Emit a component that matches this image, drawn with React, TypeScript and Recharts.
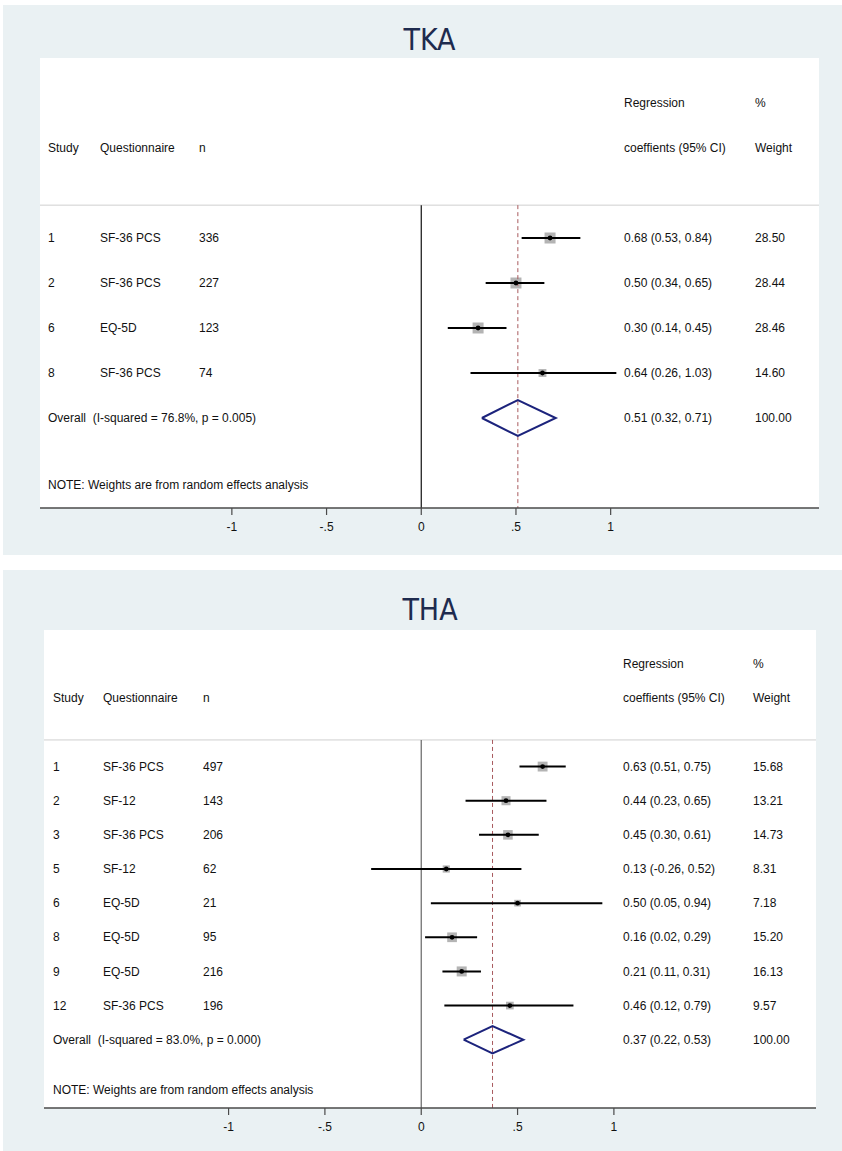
import React from "react";
import { ScatterChart, Scatter, XAxis, YAxis, ReferenceLine } from "recharts";

// TKA studies
const TKA_STUDY = ["1", "2", "6", "8"];
const TKA_QUEST = ["SF-36 PCS", "SF-36 PCS", "EQ-5D", "SF-36 PCS"];
const TKA_N = [336, 227, 123, 74];
const TKA_EST = [0.68, 0.5, 0.3, 0.64];
const TKA_LO = [0.53, 0.34, 0.14, 0.26];
const TKA_HI = [0.84, 0.65, 0.45, 1.03];
const TKA_WEIGHT = [28.5, 28.44, 28.46, 14.6];
const TKA_OVERALL = [0.51, 0.32, 0.71];
const TKA_I2 = "76.8%";
const TKA_P = "0.005";

// THA studies
const THA_STUDY = ["1", "2", "3", "5", "6", "8", "9", "12"];
const THA_QUEST = ["SF-36 PCS", "SF-12", "SF-36 PCS", "SF-12", "EQ-5D", "EQ-5D", "EQ-5D", "SF-36 PCS"];
const THA_N = [497, 143, 206, 62, 21, 95, 216, 196];
const THA_EST = [0.63, 0.44, 0.45, 0.13, 0.5, 0.16, 0.21, 0.46];
const THA_LO = [0.51, 0.23, 0.3, -0.26, 0.05, 0.02, 0.11, 0.12];
const THA_HI = [0.75, 0.65, 0.61, 0.52, 0.94, 0.29, 0.31, 0.79];
const THA_WEIGHT = [15.68, 13.21, 14.73, 8.31, 7.18, 15.2, 16.13, 9.57];
const THA_OVERALL = [0.37, 0.22, 0.53];
const THA_I2 = "83.0%";
const THA_P = "0.000";

const X_TICKS = [-1, -0.5, 0, 0.5, 1];
const HEADER_1 = ["", "", "", "Regression", "%"];
const HEADER_2 = ["Study", "Questionnaire", "n", "coeffients (95% CI)", "Weight"];
const NOTE = "NOTE: Weights are from random effects analysis";

const FONT = '"Liberation Sans", Arial, sans-serif';
const BG = "#eaf1f3";
const NAVY = "#1c237c";

const ci = (e: number, l: number, h: number) => `${e.toFixed(2)} (${l.toFixed(2)}, ${h.toFixed(2)})`;
const fmtTick = (v: number) => (v === 0 ? "0" : String(v).replace("0.", "."));

type PanelProps = {
  title: string;
  study: string[];
  quest: string[];
  n: number[];
  est: number[];
  lo: number[];
  hi: number[];
  weight: number[];
  overall: number[];
  i2: string;
  p: string;
  top: number;
  height: number;
  plotLeft: number;
  plotRight: number;
  plotTop: number;
  plotBottom: number;
  yMax: number;
  sepY: number;
  noteY: number;
  xDomain: [number, number];
  cols: number[];
  titleY: number;
  zeroColor: string;
  maxSide: number;
};

function ForestPanel(props: PanelProps) {
  const { study, est, lo, hi, weight, overall, yMax, sepY, cols, maxSide } = props;
  const W = 842;
  const maxW = Math.max(...weight);
  const overallY = 4 + study.length;

  const textRows = [
    { x: 0, y: 1, cells: HEADER_1 },
    { x: 0, y: 2, cells: HEADER_2 },
    ...study.map((s, i) => ({
      x: 0,
      y: 4 + i,
      cells: [s, props.quest[i], String(props.n[i]), ci(est[i], lo[i], hi[i]), weight[i].toFixed(2)],
    })),
    {
      x: 0,
      y: overallY,
      cells: [`Overall  (I-squared = ${props.i2}, p = ${props.p})`, "", "", ci(overall[0], overall[1], overall[2]), "100.00"],
    },
    { x: 0, y: props.noteY, cells: [NOTE, "", "", "", ""] },
  ];

  const marks = est.map((e, i) => ({ x: e, y: 4 + i, w: weight[i] }));
  const diamond = [
    { x: overall[1], y: overallY },
    { x: overall[0], y: overallY - 0.4 },
    { x: overall[2], y: overallY },
    { x: overall[0], y: overallY + 0.4 },
    { x: overall[1], y: overallY },
  ];

  const TextRow = (p: any) => (
    <g>
      {p.payload.cells.map((c: string, k: number) =>
        c ? (
          <text
            key={k}
            x={cols[k]}
            y={p.cy}
            dy="0.35em"
            fontFamily={FONT}
            fontSize={12}
            fill="#111"
            style={{ whiteSpace: "pre" }}
          >
            {c}
          </text>
        ) : null
      )}
    </g>
  );

  const Box = (p: any) => {
    const s = maxSide * Math.sqrt(p.payload.w / maxW);
    return <rect x={p.cx - s / 2} y={p.cy - s / 2} width={s} height={s} fill="#b4b4b4" />;
  };

  const Dot = (p: any) => <circle cx={p.cx} cy={p.cy} r={2.4} fill="#000" />;

  return (
    <div style={{ position: "absolute", left: 0, top: props.top, width: W, height: props.height }}>
      <div style={{ position: "absolute", left: 3, top: 0, right: 0, bottom: 0, background: BG }} />
      <div
        style={{
          position: "absolute",
          left: props.plotLeft,
          top: props.plotTop,
          width: props.plotRight - props.plotLeft,
          height: props.plotBottom - props.plotTop,
          background: "#fff",
        }}
      />
      <div
        style={{
          position: "absolute",
          left: props.plotLeft,
          width: props.plotRight - props.plotLeft,
          top: props.titleY - 17,
          height: 34,
          lineHeight: "34px",
          textAlign: "center",
          fontFamily: '"Liberation Sans Narrow", "DejaVu Sans Condensed", sans-serif',
          fontSize: 30,
          color: "#1e2b4e",
        }}
      >
        {props.title}
      </div>
      <div style={{ position: "absolute", left: 0, top: 0 }}>
        <ScatterChart
          width={W}
          height={props.height}
          margin={{
            top: props.plotTop,
            left: props.plotLeft,
            right: W - props.plotRight,
            bottom: props.height - props.plotBottom - 40,
          }}
        >
          <XAxis
            type="number"
            dataKey="x"
            domain={props.xDomain}
            ticks={X_TICKS}
            allowDataOverflow
            height={40}
            tickFormatter={fmtTick}
            axisLine={{ stroke: "#4a4a4a", strokeWidth: 1.5 }}
            tickLine={{ stroke: "#4a4a4a", strokeWidth: 1.2 }}
            tickSize={7}
            tickMargin={7}
            tick={{ fill: "#111", fontSize: 12, fontFamily: FONT }}
          />
          <YAxis type="number" dataKey="y" domain={[0, yMax]} reversed hide allowDataOverflow />
          <Scatter data={marks} shape={Box} isAnimationActive={false} zIndex={300} />
          <ReferenceLine y={sepY} stroke="#cfcfcf" strokeWidth={1} zIndex={350} />
          <ReferenceLine
            segment={[{ x: 0, y: sepY }, { x: 0, y: yMax }]}
            stroke={props.zeroColor}
            strokeWidth={1.2}
            zIndex={350}
          />
          <ReferenceLine
            segment={[{ x: overall[0], y: sepY }, { x: overall[0], y: yMax }]}
            stroke="#a85a5e"
            strokeWidth={1}
            strokeDasharray="4 3"
            zIndex={350}
          />
          {est.map((_, i) => (
            <ReferenceLine
              key={i}
              segment={[{ x: lo[i], y: 4 + i }, { x: hi[i], y: 4 + i }]}
              stroke="#000"
              strokeWidth={2}
              zIndex={400}
            />
          ))}
          <Scatter data={marks} shape={Dot} isAnimationActive={false} zIndex={600} />
          <Scatter
            data={diamond}
            shape={() => <g />}
            line={{ stroke: NAVY, strokeWidth: 2, fill: "none" }}
            lineType="joint"
            isAnimationActive={false}
            zIndex={600}
          />
          <Scatter data={textRows} shape={TextRow} isAnimationActive={false} zIndex={700} />
        </ScatterChart>
      </div>
    </div>
  );
}

export default function App() {
  return (
    <div style={{ position: "relative", width: 842, height: 1151, background: "#fff" }}>
      <style>{"body{margin:0}"}</style>
      <ForestPanel
        title="TKA"
        study={TKA_STUDY}
        quest={TKA_QUEST}
        n={TKA_N}
        est={TKA_EST}
        lo={TKA_LO}
        hi={TKA_HI}
        weight={TKA_WEIGHT}
        overall={TKA_OVERALL}
        i2={TKA_I2}
        p={TKA_P}
        top={5}
        height={550}
        plotLeft={40}
        plotRight={819}
        plotTop={53}
        plotBottom={503}
        yMax={10}
        sepY={3.27}
        noteY={9.49}
        xDomain={[-2.013, 2.1]}
        cols={[48, 100, 199, 624, 755]}
        titleY={35}
        zeroColor="#111"
        maxSide={11}
      />
      <ForestPanel
        title="THA"
        study={THA_STUDY}
        quest={THA_QUEST}
        n={THA_N}
        est={THA_EST}
        lo={THA_LO}
        hi={THA_HI}
        weight={THA_WEIGHT}
        overall={THA_OVERALL}
        i2={THA_I2}
        p={THA_P}
        top={570}
        height={581}
        plotLeft={44}
        plotRight={816}
        plotTop={60}
        plotBottom={538}
        yMax={14}
        sepY={3.22}
        noteY={13.47}
        xDomain={[-1.958, 2.049]}
        cols={[53, 103, 203, 623, 753]}
        titleY={40}
        zeroColor="#666"
        maxSide={10}
      />
    </div>
  );
}
